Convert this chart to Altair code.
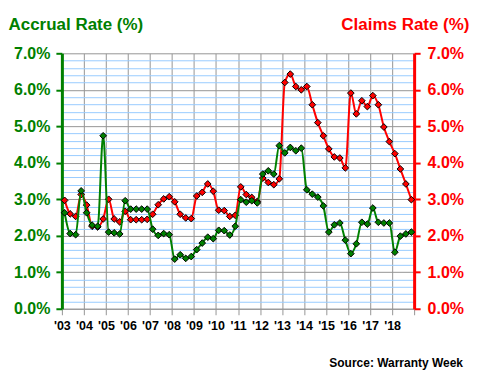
import altair as alt
import pandas as pd

# ---- data (quarterly, 2003 Q1 .. 2018 Q4) ----
years = list(range(2003, 2019))
quarters = [1, 2, 3, 4]

accrual = [
    2.63, 2.06, 2.03, 3.23,
    2.63, 2.29, 2.26, 4.74,
    2.10, 2.08, 2.05, 2.96,
    2.73, 2.73, 2.73, 2.73,
    2.18, 2.01, 2.06, 2.03,
    1.36, 1.48, 1.38, 1.43,
    1.62, 1.80, 1.96, 1.92,
    2.15, 2.14, 2.02, 2.26,
    2.99, 2.92, 2.96, 2.90,
    3.69, 3.78, 3.69, 4.47,
    4.27, 4.42, 4.33, 4.40,
    3.26, 3.14, 3.06, 2.82,
    2.10, 2.30, 2.35, 1.88,
    1.51, 1.78, 2.37, 2.32,
    2.76, 2.37, 2.35, 2.35,
    1.55, 1.99, 2.05, 2.10,
]

claims = [
    2.97, 2.60, 2.53, 3.13,
    2.84, 2.26, 2.24, 2.46,
    3.00, 2.46, 2.38, 2.67,
    2.44, 2.44, 2.44, 2.45,
    2.59, 2.85, 3.01, 3.07,
    2.93, 2.59, 2.49, 2.47,
    3.09, 3.19, 3.42, 3.22,
    2.70, 2.69, 2.53, 2.56,
    3.34, 3.13, 3.05, 2.94,
    3.58, 3.46, 3.40, 3.56,
    6.20, 6.43, 6.09, 6.00,
    6.09, 5.59, 5.10, 4.74,
    4.38, 4.16, 4.13, 3.86,
    5.91, 5.34, 5.70, 5.54,
    5.84, 5.59, 4.98, 4.58,
    4.25, 3.83, 3.42, 2.99,
]

year_ticks = list(range(2003, 2020))
pct_ticks = [round(i * 0.2, 1) for i in range(36)]

rows = []
for i, (a, c) in enumerate(zip(accrual, claims)):
    yr = years[i // 4]
    q = quarters[i % 4]
    rows.append({"t": yr + (q - 0.5) / 4, "accrual": a, "claims": c})
df = pd.DataFrame(rows)

GREEN = "#008000"
RED = "#FF0000"
GRAY = "#969696"
BLUE = "#99CCFF"
FONT = "Liberation Sans"

is_int = "abs(datum.value - round(datum.value)) < 0.01"
pct_label = f"{is_int} ? format(datum.value, '.1f') + '%' : ''"

x_axis = alt.Axis(
    values=year_ticks,
    labelExpr="datum.value < 2019 ? \"'\" + substring(toString(datum.value), 2, 4) : ''",
    title=None,
    grid=True,
    gridColor=GRAY,
    gridOpacity={"condition": {"test": "datum.value == 2003 || datum.value == 2019", "value": 0}, "value": 1},
    domainColor=GRAY,
    domainWidth=1,
    tickColor=GRAY,
    tickSize=6,
    labelFont=FONT,
    labelFontSize=12.5,
    labelFontWeight="bold",
    labelColor="black",
    labelPadding=5,
    labelOverlap=False,
    labelBound=False,
    labelFlush=False,
)
x_enc = alt.X("t:Q", scale=alt.Scale(domain=[2003, 2019], nice=False, zero=False), axis=x_axis)

y_scale = alt.Scale(domain=[0, 7], nice=False, zero=True)


def y_axis(orient, color, title, grid, title_x, title_align, pad):
    kw = dict(
        orient=orient,
        values=pct_ticks,
        labelExpr=pct_label,
        labelOverlap=False,
        labelFlush=False,
        tickOpacity={"condition": {"test": is_int, "value": 1}, "value": 0},
        tickColor=color,
        tickWidth=2,
        tickSize=6,
        domainColor=color,
        domainWidth=3,
        labelColor=color,
        labelFont=FONT,
        labelFontSize=16,
        labelFontWeight="bold",
        labelPadding=pad,
        grid=grid,
        title=title,
        titleAngle=0,
        titleX=title_x,
        titleY=-29,
        titleAlign=title_align,
        titleBaseline="middle",
        titleColor=color,
        titleFont=FONT,
        titleFontSize=17,
        titleFontWeight="bold",
    )
    if grid:
        kw["gridColor"] = {"condition": {"test": is_int, "value": GRAY}, "value": BLUE}
        kw["gridWidth"] = 1
    return alt.Axis(**kw)


left_axis = y_axis("left", GREEN, "Accrual Rate (%)", True, -54, "left", 6)
right_axis = y_axis("right", RED, "Claims Rate (%)", False, 55, "right", 7)

base = alt.Chart(df)

red_line = base.mark_line(color=RED, strokeWidth=2, interpolate="monotone").encode(
    x=x_enc, y=alt.Y("claims:Q", scale=y_scale, axis=right_axis)
)
red_pts = base.mark_point(
    shape="diamond", filled=True, fill=RED, stroke="black", strokeWidth=1, size=45, opacity=1
).encode(x=x_enc, y=alt.Y("claims:Q", scale=y_scale, axis=right_axis))

green_line = base.mark_line(color=GREEN, strokeWidth=2, interpolate="monotone").encode(
    x=x_enc, y=alt.Y("accrual:Q", scale=y_scale, axis=left_axis)
)
green_pts = base.mark_point(
    shape="diamond", filled=True, fill=GREEN, stroke="black", strokeWidth=1, size=45, opacity=1
).encode(x=x_enc, y=alt.Y("accrual:Q", scale=y_scale, axis=left_axis))

source = alt.Chart(pd.DataFrame({"s": ["Source: Warranty Week"]})).mark_text(
    align="right", baseline="middle", font=FONT, fontSize=12, fontWeight="bold", color="black"
).encode(x=alt.value(402), y=alt.value(310), text="s:N")

red_chart = alt.layer(red_line, red_pts)
green_chart = alt.layer(green_line, green_pts)

chart = (
    alt.layer(red_chart, green_chart, source)
    .resolve_axis(y="independent")
    .properties(
        width=353,
        height=256,
        autosize=alt.AutoSizeParams(type="none"),
        padding={"left": 54, "top": 45, "right": 58, "bottom": 67},
        background="white",
    )
    .configure_view(stroke=None)
)

chart.save("out.html", embed_options={"renderer": "svg", "actions": False})
